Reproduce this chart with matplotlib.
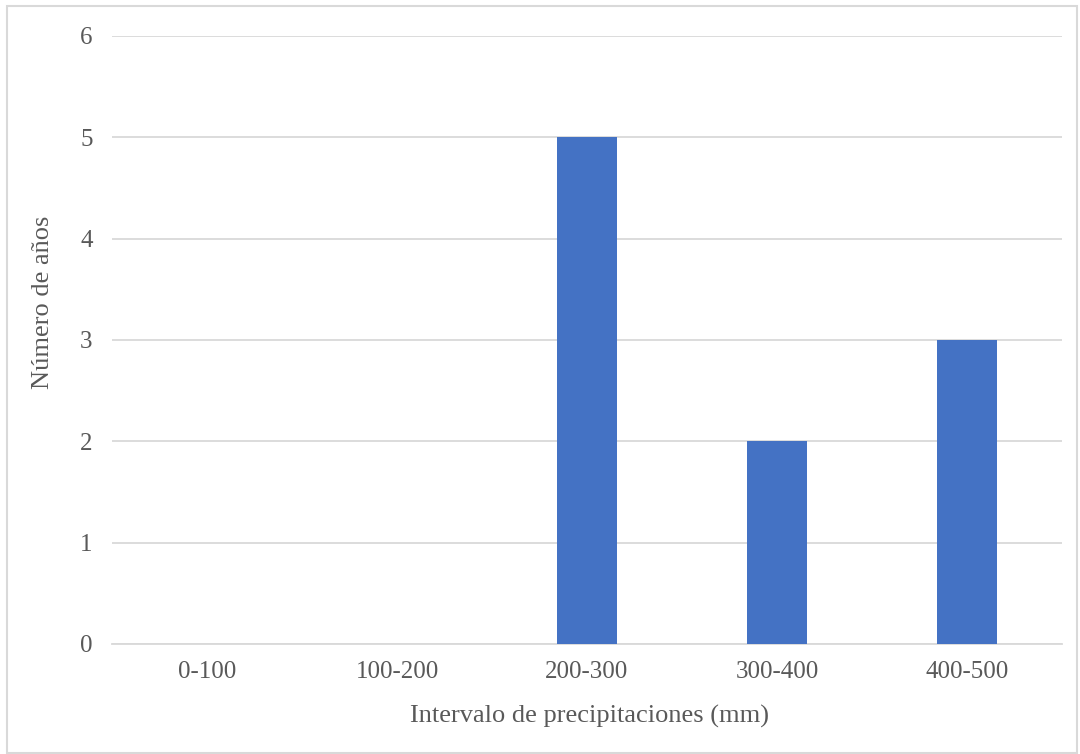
import matplotlib
matplotlib.use("Agg")
import matplotlib.pyplot as plt
from matplotlib.patches import Rectangle

categories = ["0-100", "100-200", "200-300", "300-400", "400-500"]
counts = [0, 0, 5, 2, 3]
y_ticks = [0, 1, 2, 3, 4, 5, 6]

plt.rcParams["font.family"] = ["Liberation Serif", "DejaVu Serif"]
text_color = "#595959"
grid_color = "#D9D9D9"
bar_color = "#4472C4"

fig = plt.figure(figsize=(10.8, 7.54), dpi=100)
ax = fig.add_axes([112 / 1080, 1 - 644 / 754, 950 / 1080, 608 / 754])

x = list(range(len(categories)))
ax.bar(x, counts, width=0.316, color=bar_color, zorder=3)

ax.set_xlim(-0.5, len(categories) - 0.5)
ax.set_ylim(0, 6)
ax.set_yticks(y_ticks)
ax.set_xticks(x)
ax.set_xticklabels(categories)

ax.grid(axis="y", color=grid_color, linewidth=1.3, zorder=0)
for side in ["top", "left", "right"]:
    ax.spines[side].set_visible(False)
ax.spines["bottom"].set_color(grid_color)
ax.spines["bottom"].set_linewidth(1.3)
ax.tick_params(axis="both", length=0, labelsize=18, colors=text_color)
ax.tick_params(axis="y", pad=14)
ax.tick_params(axis="x", pad=12)

ax.set_xlabel("Intervalo de precipitaciones (mm)", fontsize=19, color=text_color)
ax.set_ylabel("Número de años", fontsize=19, color=text_color)
ax.xaxis.set_label_coords(590 / 1080, 1 - 716 / 754, transform=fig.transFigure)
ax.yaxis.set_label_coords(43 / 1080, 1 - 302 / 754, transform=fig.transFigure)
ax.xaxis.label.set_va("center")
ax.yaxis.label.set_va("center")

# outer chart frame
fig.patches.append(Rectangle((7 / 1080, 1 / 754), 1070 / 1080, 747 / 754,
                             transform=fig.transFigure, fill=False,
                             edgecolor=grid_color, linewidth=1.5))

fig.savefig("out.png", dpi=100, facecolor="white")
